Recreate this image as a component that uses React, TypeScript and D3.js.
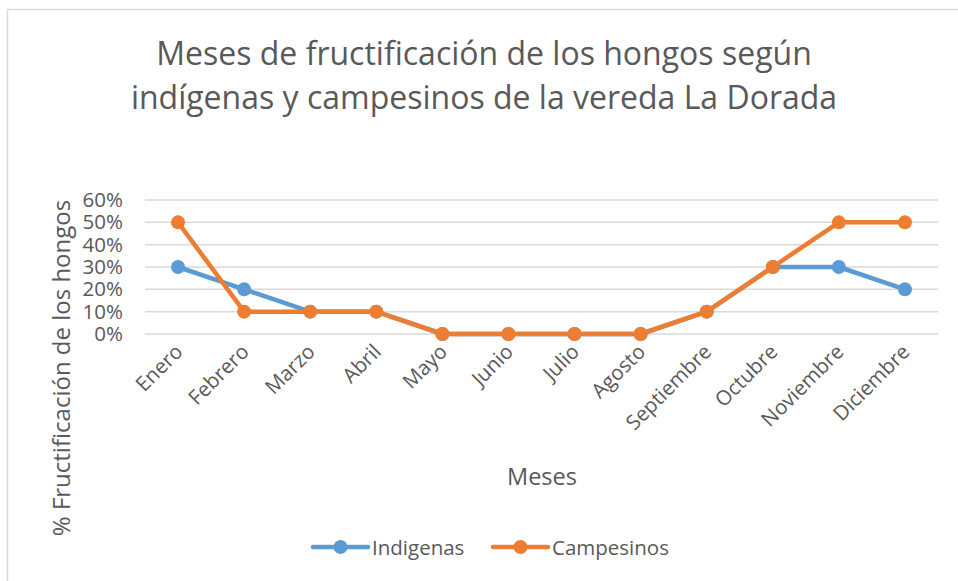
import { useRef, useEffect } from 'react';
import * as d3 from 'd3';

const months: string[] = ['Enero', 'Febrero', 'Marzo', 'Abril', 'Mayo', 'Junio', 'Julio', 'Agosto', 'Septiembre', 'Octubre', 'Noviembre', 'Diciembre'];
const indigenas: number[] = [0.3, 0.2, 0.1, 0.1, 0, 0, 0, 0, 0.1, 0.3, 0.3, 0.2];
const campesinos: number[] = [0.5, 0.1, 0.1, 0.1, 0, 0, 0, 0, 0.1, 0.3, 0.5, 0.5];
const yTicks: number[] = [0, 0.1, 0.2, 0.3, 0.4, 0.5, 0.6];
const titleLines: string[] = ['Meses de fructificación de los hongos según', 'indígenas y campesinos de la vereda La Dorada'];

export default function App() {
  const chartRef = useRef<SVGSVGElement | null>(null);

  useEffect(() => {
    if (!chartRef.current) return;
    const width = 958;
    const height = 581;
    const font = '"Open Sans", sans-serif';
    const textColor = '#595959';

    const svg = d3.select(chartRef.current)
      .attr('width', width)
      .attr('height', height);
    svg.selectAll('*').remove();

    // chart area border
    svg.append('rect')
      .attr('x', 7.5).attr('y', 9.5)
      .attr('width', width + 10).attr('height', height + 10)
      .attr('fill', '#fff')
      .attr('stroke', '#d9d9d9')
      .attr('stroke-width', 1.5);

    const x = d3.scaleBand<string>()
      .domain(months)
      .range([145, 938]);
    const y = d3.scaleLinear()
      .domain([0, 0.6])
      .range([334, 200]);
    const cx = (m: string) => (x(m) || 0) + x.bandwidth() / 2;

    // title
    svg.append('g').selectAll('text')
      .data(titleLines)
      .enter()
      .append('text')
      .attr('x', 484)
      .attr('y', (_, i) => 65 + i * 44)
      .attr('text-anchor', 'middle')
      .attr('font-family', font)
      .attr('font-size', '32px')
      .attr('fill', textColor)
      .text((d) => d);

    // gridlines
    svg.append('g').selectAll('line')
      .data(yTicks)
      .enter()
      .append('line')
      .attr('x1', 145).attr('x2', 938)
      .attr('y1', (d) => y(d)).attr('y2', (d) => y(d))
      .attr('stroke', '#d9d9d9')
      .attr('stroke-width', 1.5);

    // y tick labels
    svg.append('g').selectAll('text')
      .data(yTicks)
      .enter()
      .append('text')
      .attr('x', 123)
      .attr('y', (d) => y(d) + 7)
      .attr('text-anchor', 'end')
      .attr('font-family', font)
      .attr('font-size', '20.5px')
      .attr('fill', textColor)
      .text((d) => d3.format('.0%')(d));

    // x tick labels
    svg.append('g').selectAll('text')
      .data(months)
      .enter()
      .append('text')
      .attr('transform', (d) => `translate(${cx(d) + 6},${353}) rotate(-45)`)
      .attr('text-anchor', 'end')
      .attr('font-family', font)
      .attr('font-size', '20.5px')
      .attr('fill', textColor)
      .text((d) => d);

    // axis titles
    svg.append('text')
      .attr('transform', 'translate(70,368) rotate(-90)')
      .attr('text-anchor', 'middle')
      .attr('font-family', font)
      .attr('font-size', '24px')
      .attr('fill', textColor)
      .text('% Fructificación de los hongos');

    svg.append('text')
      .attr('x', 542)
      .attr('y', 485)
      .attr('text-anchor', 'middle')
      .attr('font-family', font)
      .attr('font-size', '23.5px')
      .attr('fill', textColor)
      .text('Meses');

    const series = [
      { name: 'Indigenas', values: indigenas, color: '#5B9BD5' },
      { name: 'Campesinos', values: campesinos, color: '#ED7D31' },
    ];

    const line = d3.line<number>()
      .x((_, i) => cx(months[i]))
      .y((d) => y(d));

    series.forEach((s) => {
      const g = svg.append('g');
      g.append('path')
        .datum(s.values)
        .attr('d', line)
        .attr('fill', 'none')
        .attr('stroke', s.color)
        .attr('stroke-width', 4.5)
        .attr('stroke-linejoin', 'round');
      g.selectAll('circle')
        .data(s.values)
        .enter()
        .append('circle')
        .attr('cx', (_, i) => cx(months[i]))
        .attr('cy', (d) => y(d))
        .attr('r', 7)
        .attr('fill', s.color);
    });

    // legend
    const legendX = [313, 493];
    series.forEach((s, i) => {
      const g = svg.append('g').attr('transform', `translate(${legendX[i]},547)`);
      g.append('line')
        .attr('x1', 0).attr('x2', 55)
        .attr('stroke', s.color)
        .attr('stroke-width', 4.5)
        .attr('stroke-linecap', 'round');
      g.append('circle')
        .attr('cx', 27.5)
        .attr('r', 7)
        .attr('fill', s.color);
      g.append('text')
        .attr('x', 59)
        .attr('y', 7.5)
        .attr('font-family', font)
        .attr('font-size', '20.5px')
        .attr('fill', textColor)
        .text(s.name);
    });
  }, []);

  return (
    <div style={{ position: 'absolute', left: 0, top: 0 }}>
      <svg ref={chartRef} style={{ display: 'block' }}></svg>
    </div>
  );
}
